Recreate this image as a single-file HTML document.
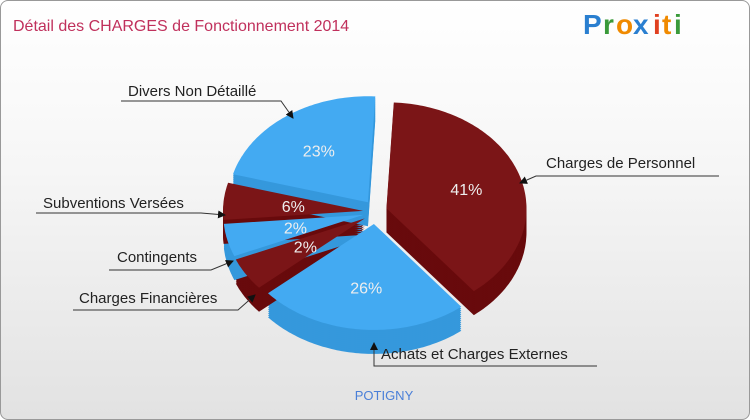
<!DOCTYPE html>
<html><head><meta charset="utf-8">
<style>
body{margin:0;width:750px;height:420px;overflow:hidden;font-family:"Liberation Sans",sans-serif;}
#frame{position:absolute;left:0;top:0;width:748px;height:418px;border:1px solid #999;border-radius:8px;background:linear-gradient(#ffffff 0%,#f6f6f6 40%,#e2e2e2 100%);overflow:hidden;}
svg{position:absolute;left:0;top:0}
</style></head>
<body>
<div id="frame">
<svg id="chart" width="750" height="420">
<defs><marker id="arr" markerWidth="8" markerHeight="8" refX="7" refY="4" orient="auto" markerUnits="userSpaceOnUse"><path d="M0,0 L8,4 L0,8 Z" fill="#111"/></marker></defs>
<text x="12" y="30" font-size="16" fill="#c0305c">Détail des CHARGES de Fonctionnement 2014</text>
<g font-size="28" font-weight="bold" font-family="'Liberation Sans',sans-serif">
<text x="582" y="33" fill="#2a7fd0">P</text><text x="602" y="33" fill="#3a9a3a">r</text><text x="615" y="33" fill="#f08a00">o</text><text x="632" y="33" fill="#2a7fd0">x</text><text x="652" y="33" fill="#e04020">i</text><text x="661" y="33" fill="#f08a00">t</text><text x="673" y="33" fill="#3a9a3a">i</text>
</g>
<g id="slices"></g>
<g id="pcts"></g>
<g id="labels" font-size="15" fill="#222">
<text x="127" y="95">Divers Non Détaillé</text>
<polyline points="120,100 280,100 292,117" fill="none" stroke="#333" marker-end="url(#arr)"/>
<text x="545" y="167">Charges de Personnel</text>
<polyline points="718,175 535,175 519,182" fill="none" stroke="#333" marker-end="url(#arr)"/>
<text x="42" y="207">Subventions Versées</text>
<polyline points="35,212 200,212 224,214" fill="none" stroke="#333" marker-end="url(#arr)"/>
<text x="116" y="261">Contingents</text>
<polyline points="108,269 210,269 232,260" fill="none" stroke="#333" marker-end="url(#arr)"/>
<text x="78" y="302">Charges Financières</text>
<polyline points="72,309 237,309 254,294" fill="none" stroke="#333" marker-end="url(#arr)"/>
<text x="380" y="358">Achats et Charges Externes</text>
<polyline points="596,365 373,365 373,342" fill="none" stroke="#333" marker-end="url(#arr)"/>
</g>
<text x="383" y="399" font-size="13" fill="#4a7fd8" text-anchor="middle">POTIGNY</text>
</svg>
</div>
<script>
const categories=["Charges de Personnel","Achats et Charges Externes","Charges Financières","Contingents","Subventions Versées","Divers Non Détaillé"];
const values=[41,26,2,2,6,23];
const colorKeys=["red","blue","red","blue","red","blue"];
const pal={red:["#7b1517","#680a0c"],blue:["#43aaf2","#3598dc"]};
const cx=374,cy=211,rx=140,ry=106,depth=24,explode=12,startAngle=3,minAngle=18;
const NS="http://www.w3.org/2000/svg";
const total=values.reduce((a,b)=>a+b,0);
const raw=values.map(v=>v/total*360);
const fixedSum=raw.filter(a=>a<minAngle).length*minAngle;
const freeSum=raw.filter(a=>a>=minAngle).reduce((a,b)=>a+b,0);
const spans=raw.map(a=>a<minAngle?minAngle:a*(360-fixedSum)/freeSum);
function pt(a,r,ox,oy){const t=a*Math.PI/180;return [cx+ox+rx*r*Math.sin(t),cy+oy-ry*r*Math.cos(t)];}
function slicePath(a1,a2,ox,oy){let d="M"+(cx+ox)+","+(cy+oy);for(let a=a1;a<=a2;a+=1){const p=pt(a,1,ox,oy);d+=" L"+p[0].toFixed(1)+","+p[1].toFixed(1);}const p=pt(a2,1,ox,oy);d+=" L"+p[0].toFixed(1)+","+p[1].toFixed(1)+" Z";return d;}
const gs=document.getElementById("slices"),gp=document.getElementById("pcts");
let acc=startAngle;const info=[];
spans.forEach((sp,i)=>{const a1=acc;acc+=sp;const a2=acc;const m=(a1+a2)/2;const t=m*Math.PI/180;info.push({a1,a2,m,ox:explode*Math.sin(t),oy:-explode*Math.cos(t)});});
info.forEach((s,i)=>{const c=pal[colorKeys[i]];for(let d=depth;d>0;d-=2){const p=document.createElementNS(NS,"path");p.setAttribute("d",slicePath(s.a1,s.a2,s.ox,s.oy+d));p.setAttribute("fill",c[1]);


gs.appendChild(p);}});
info.forEach((s,i)=>{const c=pal[colorKeys[i]];const p=document.createElementNS(NS,"path");p.setAttribute("d",slicePath(s.a1,s.a2,s.ox,s.oy));p.setAttribute("fill",c[0]);


gs.appendChild(p);
const r=values[i]<10?0.5:0.6;const q=pt(s.m,r,s.ox,s.oy);const tx=document.createElementNS(NS,"text");tx.setAttribute("x",q[0]);tx.setAttribute("y",q[1]+6);tx.setAttribute("text-anchor","middle");tx.setAttribute("font-size","16");tx.setAttribute("fill","#eeeeee");tx.textContent=values[i]+"%";


gp.appendChild(tx);});
</script>
</body></html>
